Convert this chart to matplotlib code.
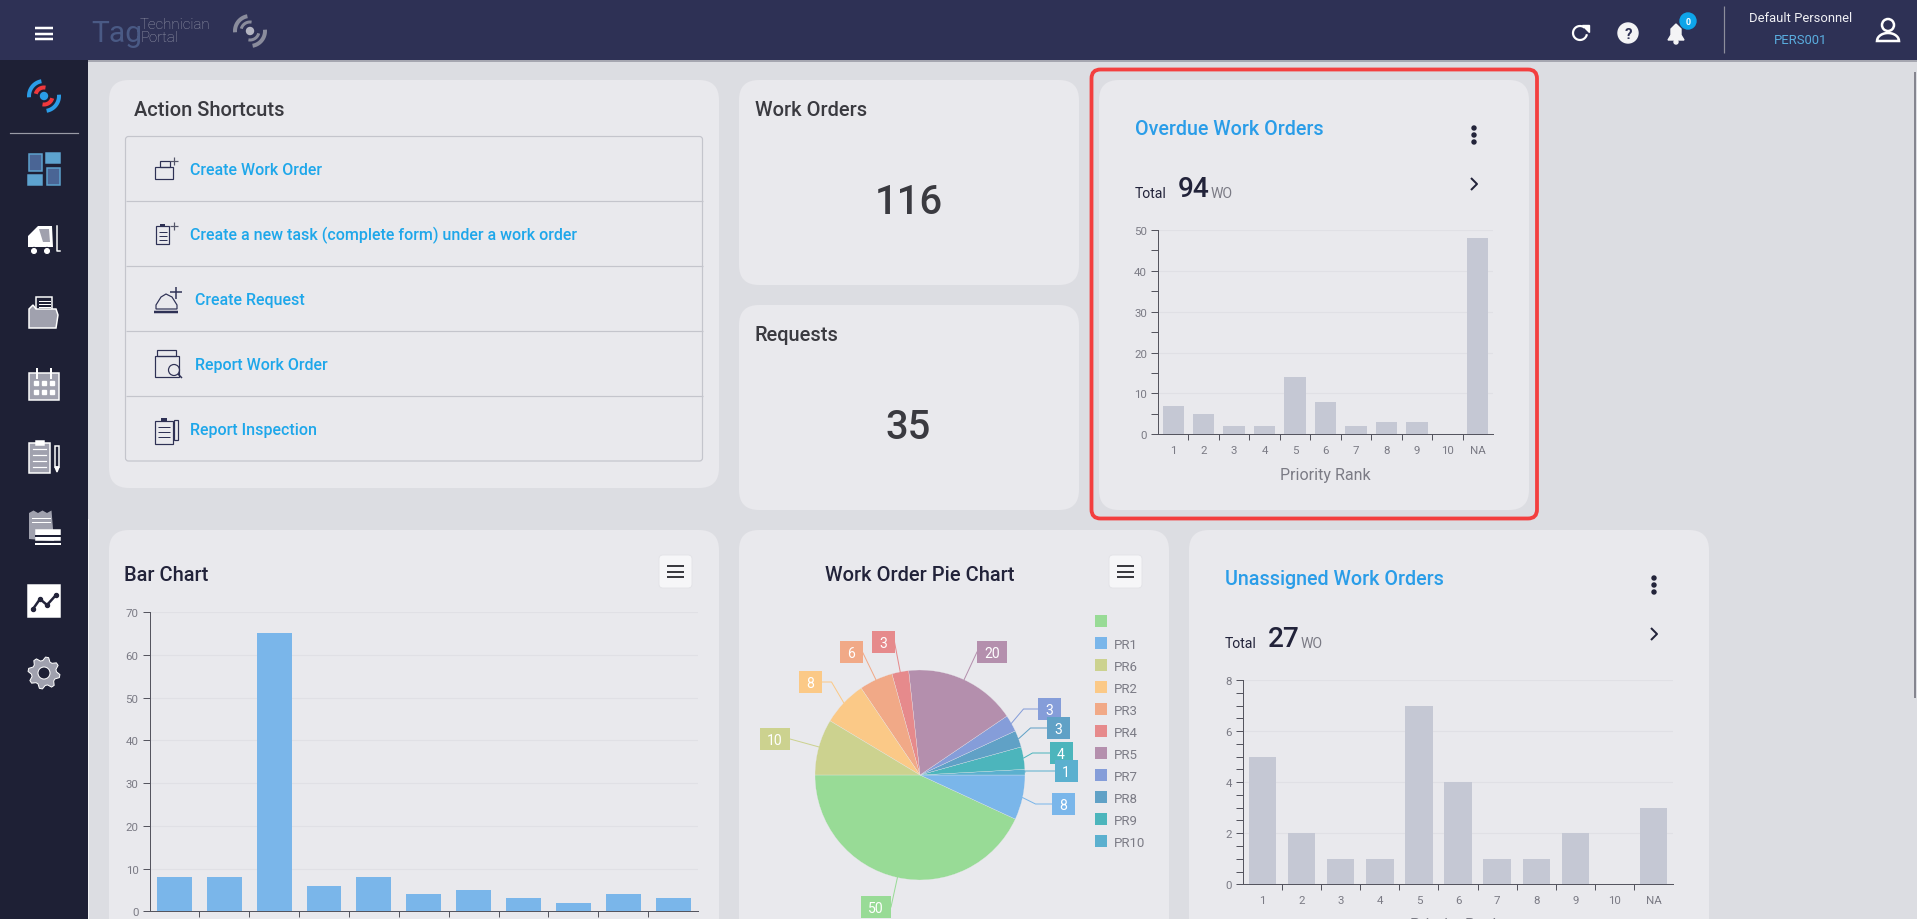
import numpy as np
import matplotlib
matplotlib.use("Agg")
from matplotlib import pyplot as plt
from matplotlib.patches import FancyBboxPatch, Rectangle, Circle, Polygon

# chart values
rank_labels = ["1", "2", "3", "4", "5", "6", "7", "8", "9", "10", "NA"]
overdue_counts = [7, 5, 2, 2, 14, 8, 2, 3, 3, 0, 48]
unassigned_counts = [5, 2, 1, 1, 7, 4, 1, 1, 2, 0, 3]
bar_counts = [8, 8, 65, 6, 8, 4, 5, 3, 2, 4, 3]

pie_names = ["", "PR1", "PR10", "PR9", "PR8", "PR7", "PR5", "PR4", "PR3", "PR2", "PR6"]
pie_counts = [50, 8, 1, 4, 3, 3, 20, 3, 6, 8, 10]
pie_colors = ["#98db96", "#7ab6ea", "#5bb0cf", "#4cb5bc", "#60a1c6", "#859dd9",
              "#b48fad", "#e68a8c", "#f1a987", "#fbc987", "#ccd28f"]
legend_order = ["", "PR1", "PR6", "PR2", "PR3", "PR4", "PR5", "PR7", "PR8", "PR9", "PR10"]

# label box centres relative to the pie centre (px, y up) and length of the flat leader part
pie_label_dx = [-44, 143, 146, 141, 138, 129, 72, -37, -69, -110, -145]
pie_label_dy = [-132, -29, 4, 22, 47, 66, 123, 133, 123, 93, 36]
pie_label_flat = [0, 16, 30, 17, 16, 14, 0, 0, 0, 10, 0]

shortcuts = ["Create Work Order", "Create a new task (complete form) under a work order",
             "Create Request", "Report Work Order", "Report Inspection"]
shortcut_x = [190, 190, 195, 195, 190]

W, H = 1917, 920
NAVY = "#2e3155"
SIDE = "#1e2035"
BG = "#dcdde2"
CARD = "#e9e9ed"
BLUE = "#2a9de8"
LINK = "#1ea7ea"
GREY = "#7b7b85"
DARK = "#3a3a40"
INK = "#22233a"
ICON = "#a0a1ae"

plt.rcParams["font.family"] = ["Roboto", "DejaVu Sans"]

fig = plt.figure(figsize=(W / 100, H / 100), dpi=100, facecolor=BG)
ui = fig.add_axes([0, 0, 1, 1], zorder=0)
ui.set_xlim(0, W)
ui.set_ylim(H, 0)
ui.axis("off")


def px(size):
    return size * 0.72


def text(x, y, s, size, color=DARK, ha="left", weight="normal", ax=ui, zorder=5):
    # matplotlib centres on the box with descender, nudge down like the page does
    ax.text(x, y + size * 0.09, s, fontsize=px(size), color=color, ha=ha, va="center", weight=weight, zorder=zorder)


def rect(x0, y0, x1, y1, color, zorder=2, **kw):
    ui.add_patch(Rectangle((x0, y0), x1 - x0, y1 - y0, facecolor=color, edgecolor="none", zorder=zorder, **kw))


def box(x0, y0, x1, y1, r=20, color=CARD, edge="none", lw=0, zorder=1):
    ui.add_patch(FancyBboxPatch((x0, y0), x1 - x0, y1 - y0, boxstyle="round,pad=0,rounding_size=%d" % r,
                                facecolor=color, edgecolor=edge, linewidth=lw, zorder=zorder))


def line(xs, ys, color, lw=1.0, zorder=4):
    ui.plot(xs, ys, color=color, lw=px(lw), zorder=zorder, solid_capstyle="butt")


def chart_axes(x0, x1, ytop, ybot):
    ax = fig.add_axes([x0 / W, 1 - ybot / H, (x1 - x0) / W, (ybot - ytop) / H], zorder=3)
    ax.patch.set_alpha(0)
    for s in ["top", "right"]:
        ax.spines[s].set_visible(False)
    for s in ["left", "bottom"]:
        ax.spines[s].set_color("#55555f")
        ax.spines[s].set_linewidth(px(1))
    ax.set_axisbelow(True)
    return ax


def bar_chart(ax, values, color, ymax, ymajor, yminor, labels=None):
    n = len(values)
    ax.bar(range(n), values, width=0.7, color=color, zorder=2)
    ax.set_xlim(-0.5, n - 0.5)
    ax.set_ylim(0, ymax)
    ax.set_xticks(range(n))
    ax.set_xticklabels(labels if labels else [""] * n)
    ax.set_xticks(np.arange(n - 1) + 0.5, minor=True)
    ax.set_yticks(np.arange(0, ymax + 1, ymajor))
    ax.set_yticks(np.arange(0, ymax + 0.1, yminor), minor=True)
    ax.tick_params(axis="x", which="major", length=0, pad=px(11), labelsize=px(11.5), labelcolor=GREY)
    ax.tick_params(axis="x", which="minor", length=px(6), width=px(1), color="#55555f")
    ax.tick_params(axis="y", which="both", length=px(7), width=px(1), color="#55555f")
    ax.tick_params(axis="y", which="major", pad=px(4), labelsize=px(11.5), labelcolor=GREY)
    ax.yaxis.grid(True, which="major", color="#e0e0e5", lw=px(1.2), zorder=0)


def menu_button(x0, y0):
    box(x0, y0, x0 + 33, y0 + 33, r=4, color="#f6f6f8", edge="#e2e2e6", lw=0.6, zorder=2)
    for dy in [11, 16.5, 22]:
        line([x0 + 8, x0 + 25], [y0 + dy, y0 + dy], DARK, 2)


def kebab(x, y):
    for dy in [-7, 0, 7]:
        ui.add_patch(Circle((x, y + dy), 2.0, color=INK, zorder=5))


def chevron(x, y):
    line([x - 3, x + 3, x - 3], [y - 6, y, y + 6], INK, 2)


def top_arc(cx, cy, r, a0, a1, color, lw):
    t = np.radians(np.linspace(a0, a1, 30))
    ui.plot(cx + r * np.cos(t), cy - r * np.sin(t), color=color, lw=px(lw), zorder=8, solid_capstyle="butt")


def side_rect(x0, y0, x1, y1, fc, ec="white", lw=1.5):
    ui.add_patch(Rectangle((x0, y0), x1 - x0, y1 - y0, facecolor=fc, edgecolor=ec, linewidth=px(lw), zorder=8))


# page frame
rect(0, 0, W, 61, NAVY, zorder=6)
rect(0, 0, W, 1.2, "#111111", zorder=7)
rect(88, 61, W, 62.5, "#a5a6b0", zorder=0.5)
rect(0, 61, 88, H, SIDE, zorder=6)
rect(88, 520, 88.8, H, "#f2f2f4", zorder=6)
rect(1914, 73, 1916, 699, "#85858f", zorder=2)

# top bar left
for y in [29, 34.5, 39.5]:
    line([35, 53], [y, y], "white", 2.5, zorder=8)
ui.text(91, 34, "Tag", fontsize=px(30), color="#4a5a85", va="center", zorder=8)
ui.text(140, 25, "Technician", fontsize=px(15), color="#9a9cae", va="center", weight="light", zorder=8)
ui.text(140, 38, "Portal", fontsize=px(15), color="#9a9cae", va="center", weight="light", zorder=8)

for a in [100, 280]:
    top_arc(250, 32, 15, a, a + 85, "#8a8c9c", 4)
    top_arc(250, 32, 9, a - 20, a + 65, "#8a8c9c", 3)
ui.add_patch(Circle((250, 32), 3.5, color="#b4b5c2", zorder=8))

# top bar right
top_arc(1580, 34, 7, 50, 350, "white", 2.2)
ui.add_patch(Polygon([[1582, 26], [1589, 26], [1589, 33]], color="white", zorder=8))
ui.add_patch(Circle((1628, 34), 10, color="#f4f4f6", zorder=8))
ui.text(1628, 35, "?", fontsize=px(15), color=NAVY, ha="center", va="center", weight="bold", zorder=9)
ui.add_patch(Polygon([[1668, 41], [1671, 36], [1671, 30], [1676, 25], [1681, 30], [1681, 36], [1684, 41]],
                     color="#f4f4f6", zorder=8))
ui.add_patch(Circle((1676, 43), 2, color="#f4f4f6", zorder=8))
ui.add_patch(Circle((1688, 22), 8, color="#0ea5e9", zorder=9))
ui.text(1688, 22.5, "0", fontsize=px(9), color="white", ha="center", va="center", weight="bold", zorder=10)
line([1724, 1724], [7, 54], "#8d8e9c", 1.2, zorder=8)
ui.text(1801, 18, "Default Personnel", fontsize=px(13), color="#f0f0f4", ha="center", va="center", zorder=8)
ui.text(1801, 41, "PERS001", fontsize=px(13), color="#5aaee0", ha="center", va="center", zorder=8)
ui.add_patch(Circle((1888, 26), 6, facecolor="none", edgecolor="white", lw=px(2.5), zorder=8))
t = np.radians(np.linspace(180, 0, 20))
ui.add_patch(Polygon(np.column_stack([np.r_[1888 + 11 * np.cos(t)], np.r_[42 - 8 * np.sin(t)]]),
                     closed=True, facecolor="none", edgecolor="white", lw=px(2.5), zorder=8))

# sidebar icons
for a in [100, 280]:
    top_arc(44, 97, 15, a, a + 85, "#2a9de8", 4)
    top_arc(44, 97, 8.5, a - 20, a + 65, "#f0383c", 4)
ui.add_patch(Circle((44, 97), 3.5, color="#2a9de8", zorder=8))
ui.plot([10, 78], [133.5, 133.5], color="#9a9ba6", lw=px(1.2), zorder=8)

side_rect(28.5, 154.5, 41.5, 171.5, "#4a6595", "#5da3cf")
side_rect(46, 154, 60, 164, "#5da3cf", "#5da3cf")
side_rect(28, 176, 42, 186, "#5da3cf", "#5da3cf")
side_rect(46.5, 168.5, 59.5, 185.5, "#4a6595", "#5da3cf")

# forklift
ui.add_patch(Polygon([[28, 237], [38, 227], [52, 227], [53, 248], [28, 248]], facecolor="white", zorder=8))
ui.add_patch(Polygon([[39, 230], [49, 230], [50, 243], [43, 243]], facecolor=ICON, zorder=8))
for cx in [34, 47]:
    ui.add_patch(Circle((cx, 252), 3.6, facecolor="white", edgecolor=SIDE, lw=0.8, zorder=9))
ui.plot([57, 57, 60], [227, 252, 252], color="white", lw=px(1.5), zorder=8)

# folder
side_rect(36, 298, 52, 312, SIDE)
for y in [302, 305, 308]:
    ui.plot([39, 50], [y, y], color="white", lw=px(1), zorder=9)
ui.add_patch(Polygon([[29, 310], [33, 306], [36, 310], [56, 310], [58, 316], [56, 329], [29, 329]],
                     facecolor=ICON, edgecolor="white", lw=px(1.5), zorder=9))
# calendar
side_rect(29, 374, 59, 401, ICON)
for x in [37, 51]:
    ui.plot([x, x], [370, 379], color="white", lw=px(2), zorder=9)
for y in [384, 393]:
    for x in [36, 44, 52]:
        ui.add_patch(Rectangle((x - 2, y - 2), 4, 4, color="white", zorder=9))
# checklist
side_rect(29, 444, 50, 474, ICON)
side_rect(36, 442, 44, 446, "white")
for y in [450, 456, 462, 468]:
    ui.plot([33, 46], [y, y], color="white", lw=px(1.2), zorder=9)
side_rect(55, 447, 59, 468, SIDE)
ui.add_patch(Polygon([[55, 468], [59, 468], [57, 473]], color="white", zorder=8))
# receipt
teeth_x = np.arange(29, 56, 4.5)
teeth_y = np.where(np.arange(len(teeth_x)) % 2 == 0, 514, 511.5)
ui.add_patch(Polygon(np.r_[np.column_stack([teeth_x, teeth_y]), [[54, 542], [29, 540]]], facecolor=ICON,
                     edgecolor="none", zorder=8))
for y in [519, 523]:
    ui.plot([32, 50], [y, y], color="white", lw=px(1), zorder=9)
side_rect(36, 531, 60, 541, "white")
ui.plot([36, 60], [537, 537], color=SIDE, lw=px(2), zorder=9)
ui.plot([36, 60], [545, 545], color="white", lw=px(2), zorder=9)
# trend
side_rect(28, 586, 60, 618, "white")
ui.plot([33, 40, 47, 56], [610, 600, 606, 596], color=INK, lw=px(2.5), marker="o", ms=px(4), zorder=9)
# gear
t = np.radians(np.arange(0, 360, 11.25) + 5.6)
r = np.where(np.arange(len(t)) % 4 < 2, 16, 12.5)
ui.add_patch(Polygon(np.column_stack([44 + r * np.cos(t), 674 + r * np.sin(t)]), facecolor=ICON,
                     edgecolor="white", lw=px(1), zorder=8))
ui.add_patch(Circle((44, 674), 6, facecolor=SIDE, edgecolor="white", lw=px(1), zorder=9))

# cards
box(109, 81, 719, 489)
box(739, 81, 1079, 286)
box(739, 306, 1079, 511)
box(1099, 81, 1529, 511)
box(109, 531, 719, 960)
box(739, 531, 1169, 960)
box(1189, 531, 1709, 960)
box(1091.5, 70.5, 1537, 519.5, r=9, color="none", edge="#f33f3f", lw=px(3.8), zorder=6)

# action shortcuts
text(134, 109, "Action Shortcuts", 20, DARK, weight="medium")
box(125.5, 137.5, 702.5, 462, r=3, color="none", edge="#c4c5cc", lw=px(1.2), zorder=2)
for i, s in enumerate(shortcuts):
    yc = 169.5 + 65 * i
    if i < 4:
        line([125.5, 702.5], [yc + 32.5, yc + 32.5], "#c4c5cc", 1.2, zorder=2)
    text(shortcut_x[i], yc, s, 16, LINK, weight="medium")

# shortcut icons, just outlines
ic = dict(facecolor="none", edgecolor=NAVY, linewidth=px(1.2), zorder=4)
ui.add_patch(Rectangle((155, 168), 18, 12, **ic))
ui.add_patch(Rectangle((160, 162), 10, 6, **ic))
line([174, 174], [158, 166], "#55566a", 1.2)
line([170, 178], [162, 162], "#55566a", 1.2)
ui.add_patch(Rectangle((156, 227), 13, 18, **ic))
ui.add_patch(Rectangle((160, 225), 5, 3, facecolor=NAVY, zorder=4))
for y in [233, 237, 241]:
    line([159, 167], [y, y], NAVY, 1)
line([174, 174], [223, 231], "#55566a", 1.2)
line([170, 178], [227, 227], "#55566a", 1.2)
ui.add_patch(Polygon([[156, 310], [177, 310], [177, 306], [172, 298], [166, 295], [161, 298], [156, 306]], **ic))
line([154, 178], [313, 313], NAVY, 2.5)
line([176, 176], [288, 300], NAVY, 1.5)
line([170, 182], [293, 293], NAVY, 1.5)
ui.add_patch(Rectangle((155, 357), 24, 21, **ic))
ui.add_patch(Rectangle((157, 351), 19, 6, **ic))
ui.add_patch(Circle((174, 371), 5.5, **ic))
line([178, 182], [375, 379], NAVY, 1.5)
ui.add_patch(Rectangle((155, 422), 18, 23, **ic))
ui.add_patch(Rectangle((161, 419), 6, 4, facecolor=NAVY, zorder=4))
for y in [428, 433, 438]:
    line([158, 170], [y, y], NAVY, 1)
ui.add_patch(Rectangle((174, 421), 3.5, 20, **ic))

# counters
text(755, 109, "Work Orders", 20, DARK, weight="medium")
text(908.5, 199, "116", 40, DARK, ha="center", weight="medium")
text(755, 334, "Requests", 20, DARK, weight="medium")
text(908.5, 424, "35", 40, DARK, ha="center", weight="medium")

# overdue card
text(1135, 128, "Overdue Work Orders", 19.8, BLUE, weight="medium")
kebab(1474, 136)
chevron(1474, 185)
text(1135, 193, "Total", 14, INK)
text(1178, 187, "94", 28, INK, weight="medium")
text(1211, 193, "WO", 14, GREY)
ax1 = chart_axes(1158, 1493, 231, 435.3)
bar_chart(ax1, overdue_counts, "#c5c8d4", 50, 10, 5, rank_labels)
text(1325, 474, "Priority Rank", 16, GREY, ha="center")

# unassigned card
text(1225, 578, "Unassigned Work Orders", 19.8, BLUE, weight="medium")
kebab(1654, 586)
chevron(1654, 635)
text(1225, 643, "Total", 14, INK)
text(1268, 637, "27", 28, INK, weight="medium")
text(1301, 643, "WO", 14, GREY)
ax2 = chart_axes(1243, 1673, 681, 885.3)
bar_chart(ax2, unassigned_counts, "#c5c8d4", 8, 2, 0.5, rank_labels)
text(1455, 924, "Priority Rank", 16, GREY, ha="center")

# bar chart card
text(124.5, 574, "Bar Chart", 20, INK, weight="medium")
menu_button(659, 556)
ax3 = chart_axes(149.5, 698, 613, 912.3)
bar_chart(ax3, bar_counts, "#7ab6ea", 70, 10, 10)

# pie card
text(920, 574, "Work Order Pie Chart", 20, INK, ha="center", weight="medium")
menu_button(1109, 556)
PX, PY, PR = 920, 776, 105
ax4 = fig.add_axes([(PX - PR) / W, 1 - (PY + PR) / H, 2 * PR / W, 2 * PR / H], zorder=3)
wedges, _ = ax4.pie(pie_counts, colors=pie_colors, startangle=180, counterclock=True, radius=1,
                    wedgeprops=dict(linewidth=0.2, edgecolor="#e9e9ed"))
ax4.set_xlim(-1, 1)
ax4.set_ylim(-1, 1)
ax4.axis("off")

for i, w in enumerate(wedges):
    mid = np.radians((w.theta1 + w.theta2) / 2)
    bx, by = pie_label_dx[i] / PR, pie_label_dy[i] / PR
    label = str(pie_counts[i])
    half = (15 if len(label) > 1 else 11.5) / PR
    side = -1 if bx > 0 else 1
    edge = bx + side * half
    xs = [np.cos(mid), edge + side * pie_label_flat[i] / PR, edge]
    ys = [np.sin(mid), by, by]
    z = 5 + (len(wedges) - i) * 0.1
    if i == 5:
        z = 5
    ax4.plot(xs, ys, color=pie_colors[i], lw=px(1), clip_on=False, zorder=4)
    ax4.add_patch(Rectangle((bx - half, by - 11 / PR), 2 * half, 22 / PR, facecolor=pie_colors[i],
                            edgecolor="none", clip_on=False, zorder=z))
    ax4.text(bx, by - 1 / PR, label, color="white", fontsize=px(14), ha="center", va="center",
             clip_on=False, zorder=z + 0.05)

# legend
for i, name in enumerate(legend_order):
    y = 622 + 22 * i
    rect(1095, y - 6, 1107, y + 6, pie_colors[pie_names.index(name)], zorder=4)
    if name:
        text(1114, y, name, 13.2, GREY)

fig.savefig("out.png", dpi=100, facecolor=fig.get_facecolor())
